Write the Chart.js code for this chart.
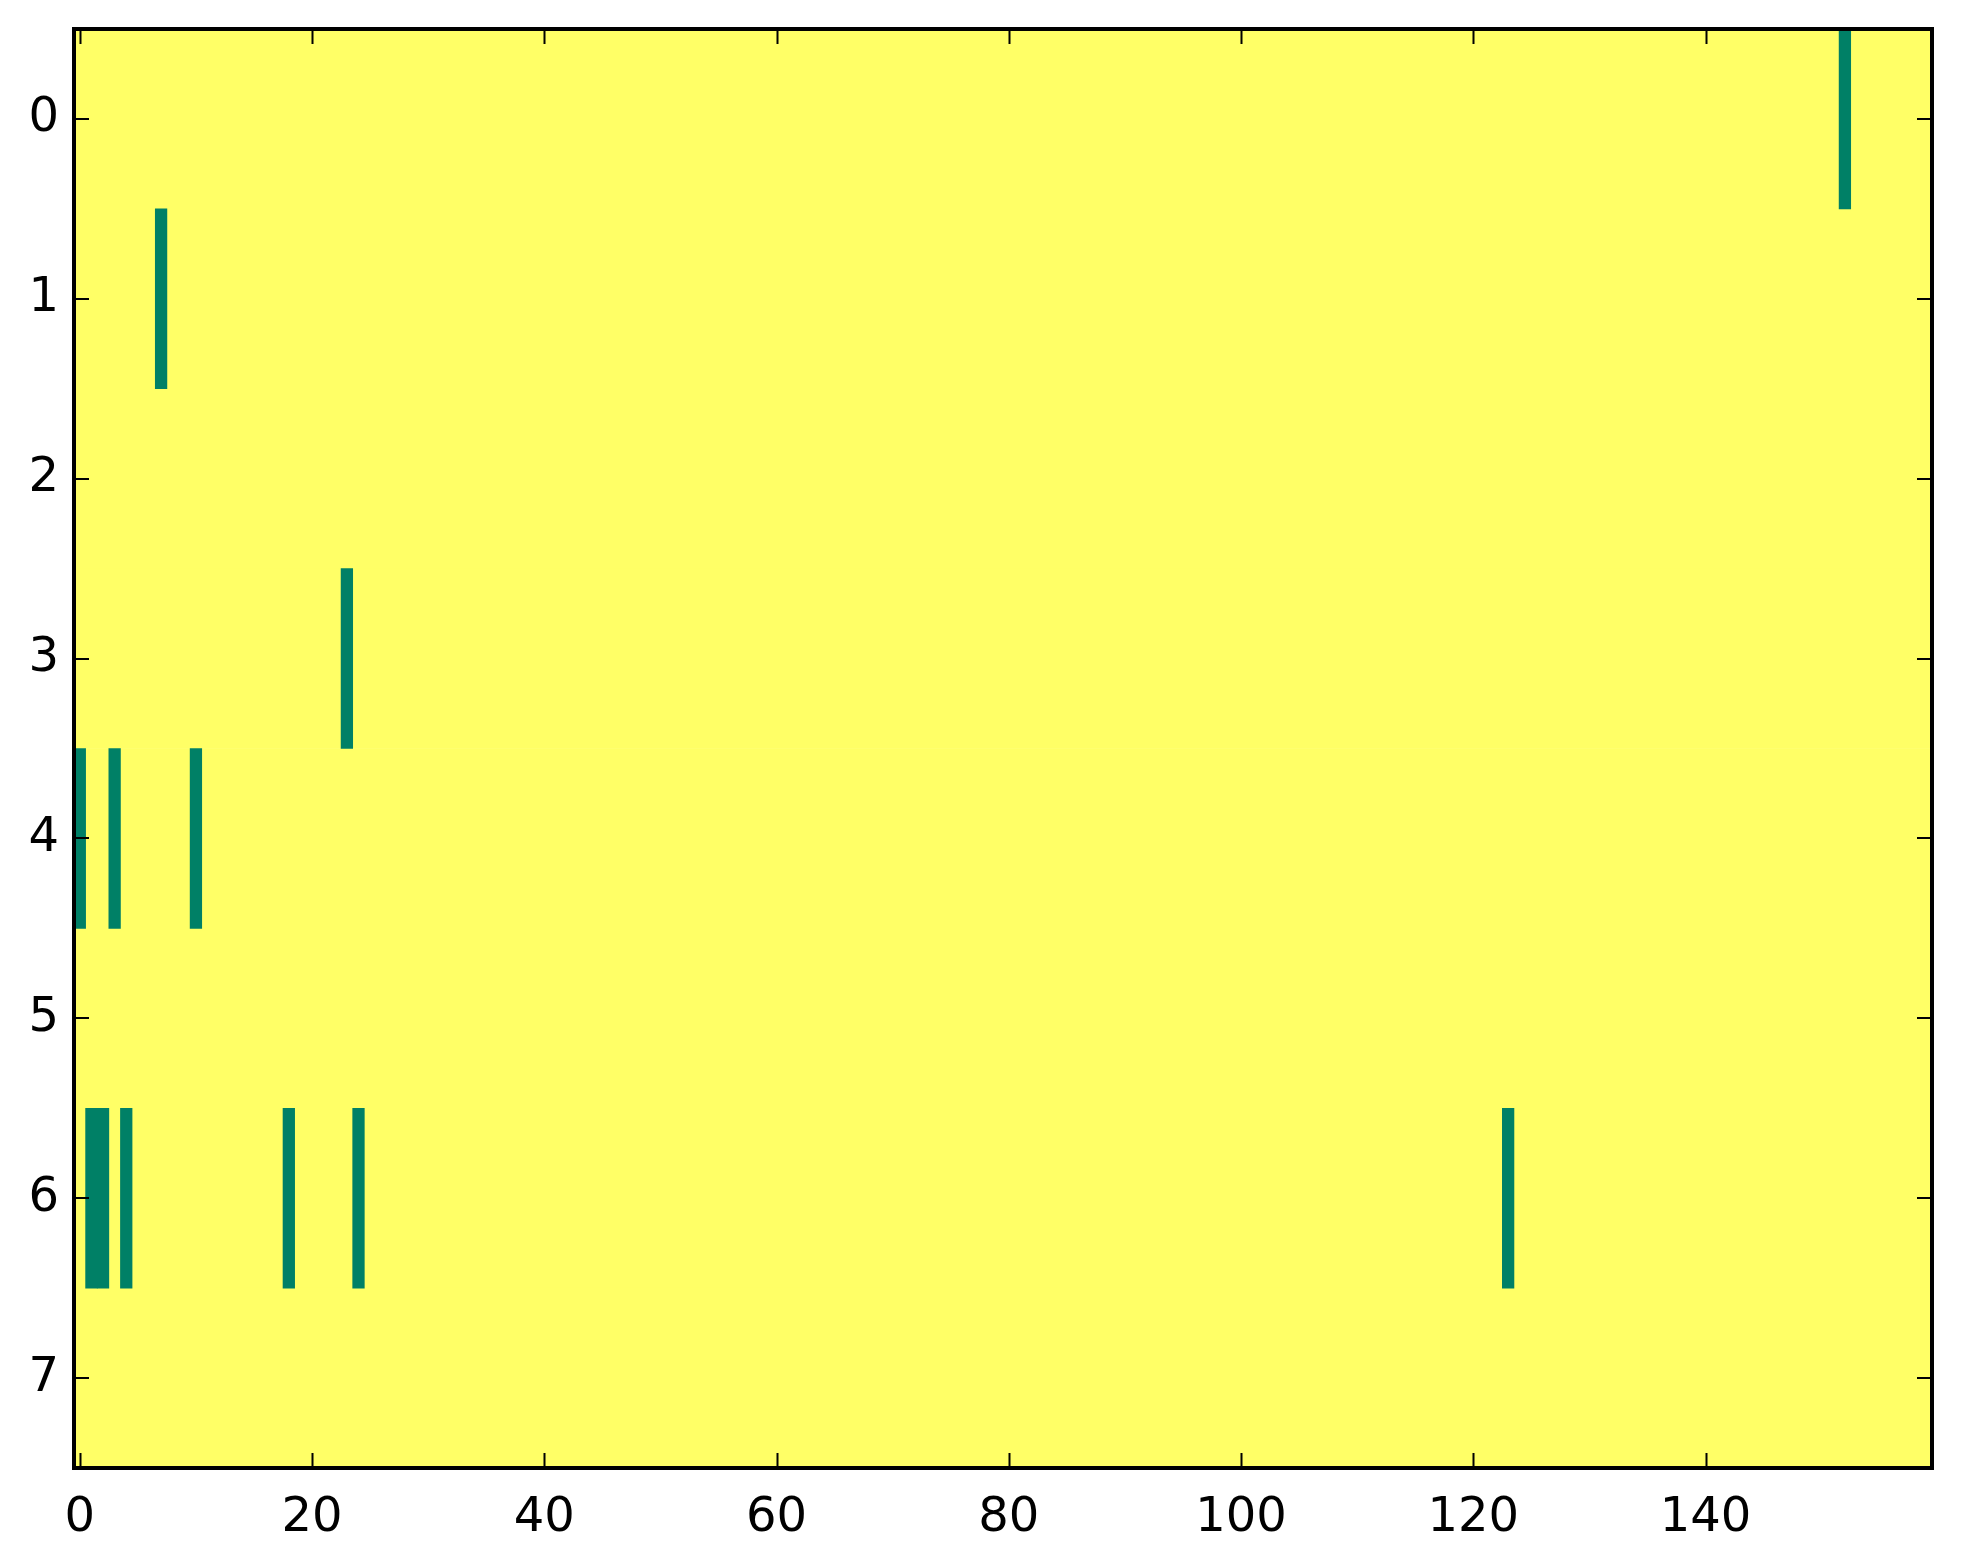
<!DOCTYPE html>
<html>
<head>
<meta charset="utf-8">
<script src="https://cdn.jsdelivr.net/npm/chart.js@4/dist/chart.umd.min.js"></script>
<style>
  body { margin: 0; background: #fff; }
</style>
</head>
<body>
<canvas id="grid" width="1963" height="1564"></canvas>
<script>
// Matrix shape: 8 rows x 160 columns, mostly 0 (yellow)
const rowCount = 8;
const colCount = 160;
// Columns holding a 1 (green) in each row
const hotCells = [
    [152],
    [7],
    [],
    [23],
    [0, 3, 10],
    [],
    [1, 2, 4, 18, 24, 123],
    []
];
const xTickValues = [0, 20, 40, 60, 80, 100, 120, 140];
const yTickValues = [0, 1, 2, 3, 4, 5, 6, 7];

const lowColor = '#ffff66';
const highColor = '#008066';

// Build the floating bars: one full-width strip per row, then the hot cells
const rowStrips = [];
for (let r = 0; r < rowCount; r++) {
    rowStrips.push({ y: r, x: [-0.5, colCount - 0.5] });
}
const cellBars = [];
hotCells.forEach((cols, r) => {
    cols.forEach(c => cellBars.push({ y: r, x: [c - 0.5, c + 0.5] }));
});

// Frame and inward ticks on all four sides, matplotlib classic look
const frameTicks = {
    id: 'frameTicks',
    afterDatasetsDraw(chart) {
        const { ctx, chartArea: a, scales } = chart;
        const len = 15;
        ctx.save();
        ctx.strokeStyle = '#000';
        ctx.lineWidth = 2;
        ctx.beginPath();
        xTickValues.forEach(v => {
            const px = Math.round(scales.x.getPixelForValue(v)) + 0.5;
            ctx.moveTo(px, a.bottom); ctx.lineTo(px, a.bottom - len);
            ctx.moveTo(px, a.top); ctx.lineTo(px, a.top + len);
        });
        yTickValues.forEach(v => {
            const py = Math.round(scales.y.getPixelForValue(v));
            ctx.moveTo(a.left, py); ctx.lineTo(a.left + len, py);
            ctx.moveTo(a.right, py); ctx.lineTo(a.right - len, py);
        });
        ctx.stroke();
        ctx.lineWidth = 4;
        ctx.strokeRect(a.left, a.top, a.right - a.left, a.bottom - a.top);
        ctx.restore();
    }
};

const tickFont = { family: 'DejaVu Sans', size: 48 };

const ctx = document.getElementById('grid').getContext('2d');
new Chart(ctx, {
    type: 'bar',
    data: {
        datasets: [
            {
                label: 'ones',
                data: cellBars,
                backgroundColor: highColor,
                borderWidth: 0,
                grouped: false,
                order: 0
            },
            {
                label: 'zeros',
                data: rowStrips,
                backgroundColor: lowColor,
                borderWidth: 0,
                grouped: false,
                order: 1
            }
        ]
    },
    options: {
        indexAxis: 'y',
        responsive: false,
        animation: false,
        devicePixelRatio: 1,
        barPercentage: 1,
        categoryPercentage: 1,
        layout: { padding: { top: 29, right: 31, left: 0, bottom: 0 } },
        plugins: {
            legend: { display: false },
            tooltip: { enabled: false }
        },
        scales: {
            x: {
                type: 'linear',
                min: -0.5,
                max: colCount - 0.5,
                grid: { display: false },
                border: { display: false },
                afterBuildTicks: s => { s.ticks = xTickValues.map(v => ({ value: v })); },
                afterFit: s => { s.height = 96; s.paddingLeft = 0; s.paddingRight = 0; },
                ticks: {
                    font: tickFont,
                    color: '#000',
                    padding: 14,
                    maxRotation: 0,
                    autoSkip: false
                }
            },
            y: {
                type: 'linear',
                reverse: true,
                offset: false,
                min: -0.5,
                max: rowCount - 0.5,
                grid: { display: false, offset: false },
                border: { display: false },
                afterBuildTicks: s => { s.ticks = yTickValues.map(v => ({ value: v })); },
                afterFit: s => { s.width = 74; s.paddingTop = 0; s.paddingBottom = 0; },
                ticks: {
                    font: tickFont,
                    color: '#000',
                    padding: 7,
                    autoSkip: false
                }
            }
        }
    },
    plugins: [frameTicks]
});
</script>
</body>
</html>
